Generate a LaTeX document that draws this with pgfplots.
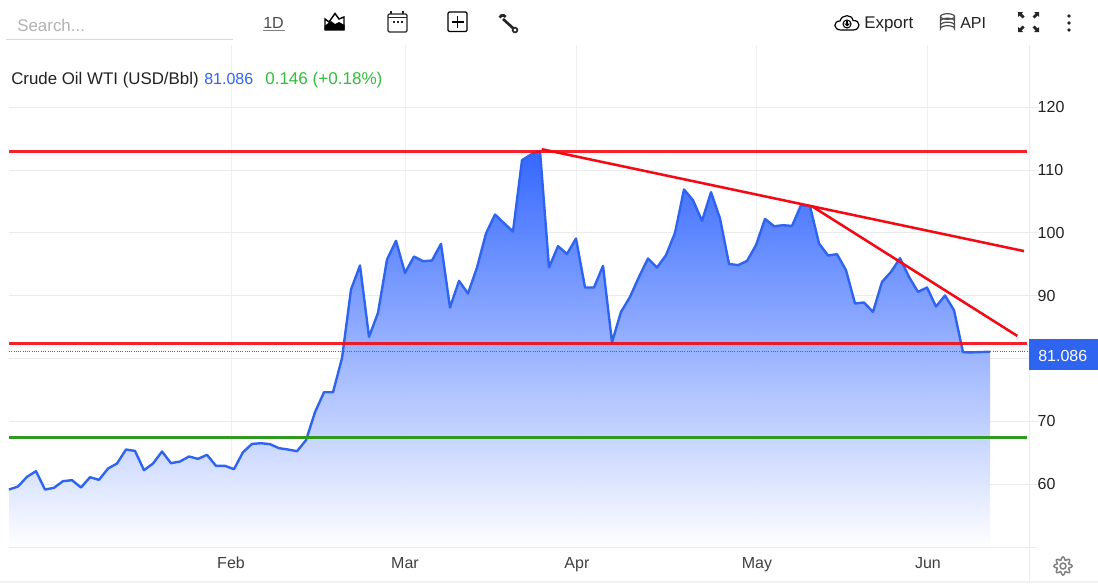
\documentclass[border=0pt]{standalone}
\usepackage{pgfplots}
\usepackage{fontspec}
\setmainfont{Liberation Sans}
\pgfplotsset{compat=1.18}
\usepackage{pgfplotstable}
\definecolor{oil}{HTML}{2E64F0}
\definecolor{oiltop}{HTML}{2A60FF}
\definecolor{gridc}{HTML}{EBEBEB}
\definecolor{vgrid}{HTML}{EEF0F4}
\definecolor{redl}{HTML}{F40A14}
\definecolor{greenl}{HTML}{2F9A1F}
\definecolor{txt}{HTML}{222222}
\pgfplotstableread{
i v
0 59.15
1 59.63
2 61.17
3 62.07
4 59.15
5 59.42
6 60.48
7 60.64
8 59.47
9 61.11
10 60.69
11 62.49
12 63.29
13 65.52
14 65.30
15 62.23
16 63.29
17 65.20
18 63.34
19 63.61
20 64.41
21 64.03
22 64.67
23 62.92
24 62.92
25 62.39
26 65.09
27 66.41
28 66.52
29 66.37
30 65.73
31 65.52
32 65.25
33 67.00
34 71.46
35 74.64
36 74.64
37 80.05
38 90.98
39 94.80
40 83.44
41 87.27
42 95.76
43 98.73
44 93.63
45 96.24
46 95.49
47 95.60
48 98.25
49 88.12
50 92.36
51 90.35
52 94.49
53 99.90
54 102.92
55 101.54
56 100.22
57 111.57
58 112.47
59 113.05
60 94.49
61 97.88
62 96.65
63 99.10
64 91.30
65 91.30
66 94.75
67 82.60
68 87.42
69 89.81
70 93.00
71 95.92
72 94.49
73 96.45
74 100.00
75 106.90
76 105.20
77 101.91
78 106.48
79 102.29
80 95.06
81 94.86
82 95.54
83 98.04
84 102.23
85 101.06
86 101.22
87 101.11
88 104.41
89 104.25
90 98.31
91 96.40
92 96.61
93 94.06
94 88.76
95 88.92
96 87.42
97 92.20
98 93.79
99 95.97
100 92.99
101 90.61
102 91.30
103 88.28
104 90.03
105 87.69
106 81.00
107 80.98
108 81.03
109 81.086
}\oildata
\begin{document}
\begin{tikzpicture}
\useasboundingbox (0,0) rectangle (823.5pt,-437.25pt);
\fill[white] (0,0) rectangle (823.5pt,-437.25pt);
\begin{axis}[
  at={(6.75pt,-410.25pt)}, anchor=south west,
  scale only axis, width=765pt, height=376.5pt,
  xmin=0, xmax=113.333, ymin=50, ymax=129.9,
  axis line style={draw=none},
  xtick={24.67,44,63.1,83.1,102.1},
  xticklabels={Feb,Mar,Apr,May,Jun},
  ytick={60,70,80,90,100,110,120},
  yticklabels={60,70,,90,100,110,120},
  ytick pos=right,
  yticklabel pos=right,
  xmajorgrids, ymajorgrids,
  x grid style={vgrid,line width=0.75pt},
  y grid style={gridc,line width=0.75pt},
  xtick style={draw=none},
  ytick style={gridc,line width=0.75pt},
  tick align=outside, major tick length=7.5pt,
  /pgf/number format/assume math mode=true,
  tick label style={font=\fontsize{12}{14}\selectfont, text=txt},
  xticklabel style={yshift=3.4pt,text=black!75},
  yticklabel style={xshift=-4.5pt},
  clip=false,
]
\addplot[draw=none, top color=oiltop, bottom color=white, fill opacity=0.95] table[x=i,y=v]{\oildata} \closedcycle;
\addplot[oil, line width=1.8pt, line join=round] table[x=i,y=v]{\oildata};
\addplot[oil, line width=0.7pt, densely dotted] coordinates {(0,81.086) (113.333,81.086)};
\addplot[redl, opacity=0.9, line width=2pt] coordinates {(0,113) (113.1,113)};
\addplot[redl, opacity=0.9, line width=2pt] coordinates {(0,82.36) (113.1,82.36)};
\addplot[greenl, line width=2pt] coordinates {(0,67.4) (113.1,67.4)};
\addplot[redl, line width=1.9pt] coordinates {(59.19,113.32) (112.78,97.1)};
\addplot[redl, line width=1.9pt] coordinates {(89.2,104.25) (112.03,83.6)};
\end{axis}
\begin{scope}[x=0.75pt,y=-0.75pt]
% frame lines
\draw[gridc,line width=0.75pt] (9,547) -- (1036,547);
\draw[gridc,line width=0.75pt] (1029,45) -- (1029,583);
\fill[gridc!70] (0,580.5) rectangle (1098,583);
\fill[oil] (1029,339) rectangle (1098,370);
\node[anchor=base west,text=white,inner sep=0,font=\fontsize{12}{14}\selectfont] at (1038,361) {81.086};
% header
\node[anchor=base west,inner sep=0,font=\fontsize{12.65}{14}\selectfont,text=txt] at (11,84) {Crude Oil WTI (USD/Bbl)};
\node[anchor=base west,inner sep=0,font=\fontsize{12}{14}\selectfont,text=oil] at (204,84) {81.086};
\node[anchor=base west,inner sep=0,font=\fontsize{12.8}{14}\selectfont,text={rgb,255:red,50;green,190;blue,60}] at (265,84) {0.146 (+0.18\%)};
% toolbar
\node[anchor=base west,inner sep=0,font=\fontsize{12.7}{14}\selectfont,text=black!30] at (17,31) {Search...};
\draw[black!15,line width=0.75pt] (6,39.5) -- (233,39.5);
\node[anchor=base west,inner sep=0,font=\fontsize{12}{14}\selectfont,text=black!70] at (263,28) {1D};
\draw[black!50,line width=0.75pt] (263,30) -- (285,30);
% area icon
\draw[black,line width=1.1pt,line join=miter] (325,30) -- (325,19) -- (329,22) -- (335,13.5) -- (339,19) -- (344,17) -- (344,30);
\fill[black] (324.5,30.5) -- (324.5,26) -- (331,21) -- (335,24) -- (339,22) -- (344.5,25) -- (344.5,30.5) -- cycle;
% calendar
\draw[black!85,line width=0.9pt,rounded corners=1pt] (388,14) rectangle (407,32);
\draw[black!85,line width=0.9pt] (388,17.5) -- (407,17.5);
\draw[black!85,line width=0.9pt] (391,10.5) -- (391,14) (403,10.5) -- (403,14);
\foreach \a in {392.5,396.6,400.7}{\fill[black!85] (\a,20.5) rectangle +(2,2);}
% plus box
\draw[black,line width=0.9pt,rounded corners=1pt] (448,12) rectangle (467,31.5);
\draw[black,line width=0.9pt] (451.5,22) -- (463.5,22) (457.5,16) -- (457.5,28);
% wrench
\draw[black!85,line width=2pt] (503,19) -- (514,29);
\draw[black!85,line width=1.2pt,fill=white] (515,30) circle (2.4);
\draw[black!85,line width=2pt] (499.5,17.5) arc[start angle=200,end angle=330,radius=3.4] ;
% cloud
\draw[black,line width=0.9pt] (841,30) .. controls (833,30) and (833,21) .. (840,21) .. controls (842,14) and (852,14) .. (853,20.5) .. controls (861,20) and (861,30) .. (853,30) -- cycle;
\draw[black,line width=0.8pt] (847,24) circle (4);
\fill[black] (846,20.5) rectangle (848,24);
\fill[black] (844,23.5) -- (850,23.5) -- (847,26.5) -- cycle;
\node[anchor=base west,inner sep=0,font=\fontsize{12.7}{14}\selectfont,text=txt] at (864,28) {Export};
% database
\draw[black!70,line width=0.9pt] (940.5,16.5) -- (940.5,28.5) arc[x radius=7,y radius=2.8,start angle=180,end angle=360] -- (954.5,16.5);
\draw[black!70,line width=0.9pt] (947.5,16.5) ellipse [x radius=7,y radius=2.8];
\draw[black!70,line width=0.9pt] (940.5,21) arc[x radius=7,y radius=2.8,start angle=180,end angle=360];
\draw[black!70,line width=0.9pt] (940.5,25) arc[x radius=7,y radius=2.8,start angle=180,end angle=360];
\node[anchor=base west,inner sep=0,font=\fontsize{12}{14}\selectfont,text=txt] at (960,28) {API};
% fullscreen
\foreach \sx/\sy/\ox/\oy in {1/1/1018/12,-1/1/1039/12,1/-1/1018/32,-1/-1/1039/32}{
  \begin{scope}[shift={(\ox,\oy)},xscale=\sx,yscale=\sy]
  \fill[black!85] (0,0) -- (5,0) -- (3.5,1.5) -- (6.5,4.5) -- (4.5,6.5) -- (1.5,3.5) -- (0,5) -- cycle;
  \end{scope}}
% dots
\foreach \a in {16,23,30}{\fill[black!85] (1069,\a) circle (1.9);}
% gear
\draw[black!50,line width=1.1pt,fill=white] plot[domain=0:360,samples=145,smooth] ({1063+(7.6+1.5*cos(8*\x))*cos(\x)},{566+(7.6+1.5*cos(8*\x))*sin(\x)}) -- cycle;
\draw[black!50,line width=1.1pt] (1063,566) circle (3);
\end{scope}
\end{tikzpicture}
\end{document}
